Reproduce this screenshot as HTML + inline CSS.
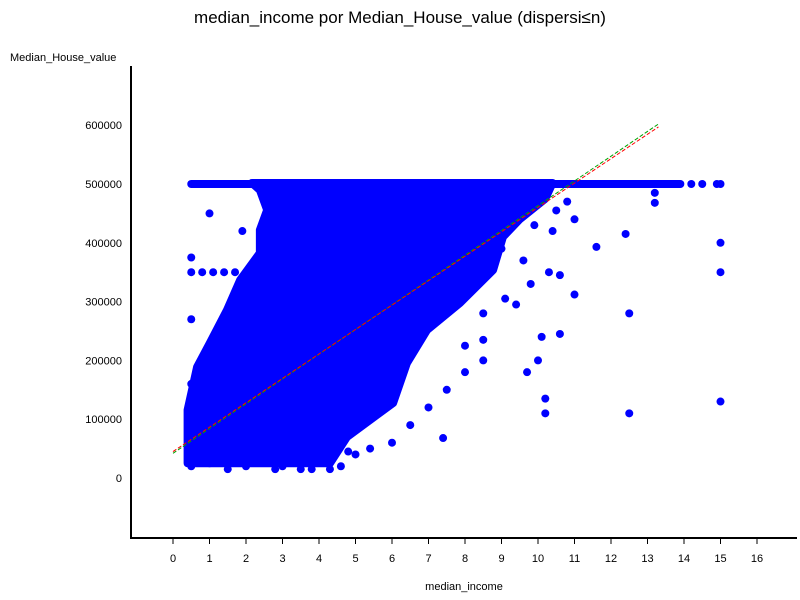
<!DOCTYPE html>
<html><head><meta charset="utf-8"><style>
body{margin:0;background:#fff;}
svg{display:block;font-family:"Liberation Sans",sans-serif;}
</style></head><body>
<svg id="chart" width="800" height="600">
<text x="400" y="23" text-anchor="middle" font-size="17">median_income  por  Median_House_value  (dispersi≤n)</text>
<text x="10" y="61" font-size="11">Median_House_value</text>
<text x="464" y="590" text-anchor="middle" font-size="11">median_income</text>
<g id="plot"></g>
</svg>
<script>
const xTicks=[0,1,2,3,4,5,6,7,8,9,10,11,12,13,14,15,16];
const yTicks=[0,100000,200000,300000,400000,500000,600000];
// dense cloud outline [income, value]
const cloudX=[0.4,4.3,4.77,6.03,6.41,6.96,7.86,8.77,9.04,9.5,10.2,10.4,2.16,2.38,2.58,2.38,2.38,1.84,1.48,1.01,0.66,0.4];
const cloudY=[25000,25000,70000,127500,195600,251700,297600,353700,410000,440000,475000,501700,501700,489800,455800,421800,382700,336700,285700,229600,188800,115600];
// capped values line
const capStart=0.5, capEnd=13.9, capValue=500000;
const capX=[14.2,14.5,14.9,15];
// outliers
const ptX=[15,15,15,12.5,12.5,12.4,13.2,13.2,11.6,11,11,10.2,10.2,10,10.1,9.7,10.3,10.6,10.6,9.4,8.5,8.5,7.4,4.3,3.5,0.5,0.5,1,0.5,0.5,0.8,1.1,1.4,1.7,0.5,0.5,9.8,9.1,8.0,10.4,5.4,4.8,2.0,1.0,9.8,10.5,9.9,9.0,9.6,8.5,8.0,7.5,7.0,6.5,6.0,5.0,2.5,1.9,0.5,1.5,2.8,3.0,3.8,4.6,10.8,9.2];
const ptY=[400000,350000,130000,110000,280000,415000,468000,485000,393000,440000,312000,135000,110000,200000,240000,180000,350000,345000,245000,295000,235000,280000,68000,15000,15000,375000,350000,450000,270000,160000,350000,350000,350000,350000,115000,90000,330000,305000,225000,420000,50000,45000,20000,25000,460000,455000,430000,390000,370000,200000,180000,150000,120000,90000,60000,40000,400000,420000,20000,15000,15000,20000,15000,20000,470000,465000];
// regression lines
const regX=[0,13.3];
const regRed=[45000,597000];
const regGreen=[42000,602000];

const X=v=>173+v*36.5, Y=v=>478-v*0.000588;
const ns="http://www.w3.org/2000/svg", g=document.getElementById('plot');
function mk(t,a){const e=document.createElementNS(ns,t);for(const k in a)e.setAttribute(k,a[k]);g.appendChild(e);return e;}
let e=mk('line',{x1:131,y1:66,x2:131,y2:539,stroke:'#000','stroke-width':2});

e=mk('line',{x1:130,y1:538,x2:797,y2:538,stroke:'#000','stroke-width':2});

xTicks.forEach(t=>{mk('line',{x1:X(t),y1:538,x2:X(t),y2:544,stroke:'#000'});
 e=mk('text',{x:X(t),y:562,'font-size':11,'text-anchor':'middle'});e.textContent=t;
 });
yTicks.forEach(t=>{e=mk('text',{x:122,y:Y(t)+4,'font-size':11,'text-anchor':'end'});e.textContent=t;
 });
e=mk('polygon',{points:cloudX.map((x,i)=>X(x)+','+Y(cloudY[i])).join(' '),fill:'#0000ff',stroke:'#0000ff','stroke-width':8,'stroke-linejoin':'round'});

e=mk('line',{x1:X(capStart),y1:Y(capValue),x2:X(capEnd),y2:Y(capValue),stroke:'#0000ff','stroke-width':8,'stroke-linecap':'round'});

capX.forEach(x=>{e=mk('circle',{cx:X(x),cy:Y(capValue),r:4,fill:'#0000ff'});
 });
ptX.forEach((x,i)=>{e=mk('circle',{cx:X(x),cy:Y(ptY[i]),r:4,fill:'#0000ff'});
 });
e=mk('line',{x1:X(regX[0]),y1:Y(regGreen[0]),x2:X(regX[1]),y2:Y(regGreen[1]),stroke:'#00a000','stroke-width':1,'stroke-dasharray':'4,2'});

e=mk('line',{x1:X(regX[0]),y1:Y(regRed[0]),x2:X(regX[1]),y2:Y(regRed[1]),stroke:'#ff0000','stroke-width':1,'stroke-dasharray':'4,2'});

</script>
</body></html>
